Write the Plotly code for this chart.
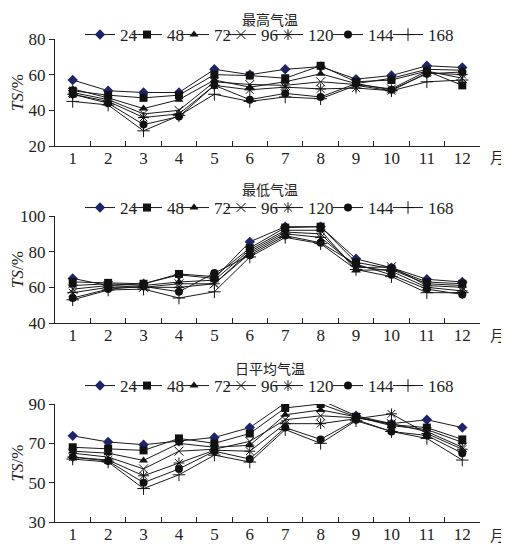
import plotly.graph_objects as go

months = [str(m) for m in range(1, 13)]
series_names = ["24", "48", "72", "96", "120", "144", "168"]

# 最高气温 (TS %), one list per forecast lead time
tmax = {
    "24":  [57, 51, 50, 50, 63, 60, 63, 64.5, 57.5, 59.5, 65, 64],
    "48":  [51, 48.5, 47, 48.5, 60, 59.5, 58, 65, 56, 57, 62, 54],
    "72":  [52, 47, 41, 46, 57, 53, 56, 60.5, 55, 58, 63, 62.5],
    "96":  [50, 46, 38, 40, 56, 54.5, 54, 56, 54.5, 52, 62, 58],
    "120": [49, 45, 36, 38, 54, 51.5, 53, 52, 52.5, 51, 61, 60],
    "144": [49, 44, 32, 36.5, 54, 46, 49.5, 47.5, 55, 51.5, 60.5, 61.5],
    "168": [45, 43, 28.5, 37, 49, 45, 47.5, 46.5, 54, 51, 56, 57],
}
# 最低气温
tmin = {
    "24":  [65, 61, 62, 67, 65, 85.5, 94, 94, 76, 71, 64.5, 63],
    "48":  [63, 62.5, 62, 67.5, 66, 82, 93.5, 94, 74, 70.5, 63, 62],
    "72":  [61, 62, 61, 63, 64, 81, 92, 92, 69.5, 70, 62, 61],
    "96":  [59, 61, 60, 62, 62, 80, 91, 90, 71, 71.5, 61, 60],
    "120": [57, 60, 60, 60, 62, 79, 90, 88, 72, 69, 60, 58],
    "144": [54, 59, 60.5, 57.5, 68, 78, 89, 85, 73, 67, 59, 56],
    "168": [53, 58.5, 59, 54, 57.5, 77, 88, 84.5, 70, 66, 57, 57],
}
# 日平均气温
tavg = {
    "24":  [73.8, 70.7, 69.3, 71, 73, 78, 90.5, 92, 84, 80, 82, 78],
    "48":  [68, 67.3, 66.4, 72.5, 70, 75, 88, 90, 83.5, 79.5, 78, 72],
    "72":  [66, 65, 61.3, 70, 68, 69, 84.5, 87, 83.5, 79, 77, 70.5],
    "96":  [65, 63, 57, 66, 67, 71, 82, 84, 83, 80, 76, 68],
    "120": [63, 61.5, 53.5, 60, 66.5, 66, 80, 80, 82.5, 85, 75, 67],
    "144": [63, 61, 50, 57, 66, 62, 78, 72, 82, 76, 74, 65],
    "168": [62, 60.5, 47, 54, 64, 60.5, 77, 70, 81.5, 76, 72.5, 61.5],
}

panels = [
    ("最高气温", tmax, [20, 80], [20, 40, 60, 80]),
    ("最低气温", tmin, [40, 100], [40, 60, 80, 100]),
    ("日平均气温", tavg, [30, 90], [30, 50, 70, 90]),
]

symbols = {
    "24": "diamond", "48": "square", "72": "triangle-up", "96": "x-thin",
    "120": "asterisk", "144": "circle", "168": "cross-thin",
}
mcolors = {"24": "#1c2568"}
leg_w = {"24": 2, "48": 2, "72": 2, "96": 2, "120": 15, "144": 15, "168": 30}

W, H = 509, 545
OFF = 8  # page body margin


def px(X):
    return (X - OFF) / W


def py(Y):
    return 1 - (Y - OFF) / H


ydom = [(146, 39), (323, 216), (522, 404)]
title_top = [8, 178, 357]
legend_y = [35, 208, 386]
month_y = [157, 334, 534]

SERIF = "Liberation Serif, Times New Roman, serif"
CJK = "Noto Sans CJK SC, sans-serif"
LINE = "#1a1a1a"

fig = go.Figure()
layout = dict(
    width=W, height=H, margin=dict(l=0, r=0, t=0, b=0),
    paper_bgcolor="white", plot_bgcolor="white", showlegend=True,
    annotations=[],
)

for i, (title, data, yr, yt) in enumerate(panels):
    n = "" if i == 0 else str(i + 1)
    lg = "legend" + n
    for s in series_names:
        sym = symbols[s]
        thin = sym in ("x-thin", "asterisk", "cross-thin")
        fig.add_trace(go.Scatter(
            x=months, y=data[s], name=s, mode="lines+markers",
            xaxis="x" + n, yaxis="y" + n, legend=lg,
            legendwidth=leg_w[s],
            line=dict(color=LINE, width=1),
            marker=dict(symbol=sym, size=8 if not thin else 9,
                        color=mcolors.get(s, "#111111"),
                        line=dict(color="#111111", width=1 if thin else 0)),
        ))
    b, t = ydom[i]
    layout["xaxis" + n] = dict(
        domain=[px(55), px(480)], anchor="y" + n, type="category", automargin=False,
        tickson="boundaries", ticks="inside", ticklen=5, tickcolor="#222",
        showline=True, linecolor="#222", linewidth=1, showgrid=False,
        tickfont=dict(family=SERIF, size=17, color="#222"),
        ticklabelstandoff=-3,
        range=[-0.5, 11.5],
    )
    layout["yaxis" + n] = dict(
        domain=[py(b), py(t)], anchor="x" + n, range=yr, automargin=False,
        tickvals=yt, ticks="outside", ticklen=5, tickcolor="#222",
        showline=True, linecolor="#222", linewidth=1, showgrid=False,
        zeroline=False,
        tickfont=dict(family=SERIF, size=17, color="#222"),
        title=dict(text="<i>TS</i>/%", font=dict(family=SERIF, size=17, color="#222"), standoff=4),
    )
    layout[lg] = dict(
        orientation="h", x=px(80), xanchor="left", y=py(legend_y[i]), yanchor="middle",
        font=dict(family=SERIF, size=17, color="#222"), itemwidth=30,
        bgcolor="rgba(0,0,0,0)", tracegroupgap=0, itemclick=False,
    )
    layout["annotations"].append(dict(
        text=title, xref="paper", yref="paper", x=px(270), y=py(title_top[i]),
        xanchor="center", yanchor="top", showarrow=False, borderpad=0,
        font=dict(family=CJK, size=14, color="#222"),
    ))
    layout["annotations"].append(dict(
        text="月", xref="paper", yref="paper", x=px(497), y=py(month_y[i]),
        xanchor="center", yanchor="middle", showarrow=False,
        font=dict(family=CJK, size=15, color="#222"),
    ))

fig.update_layout(**layout)
fig.write_html("out.html")
